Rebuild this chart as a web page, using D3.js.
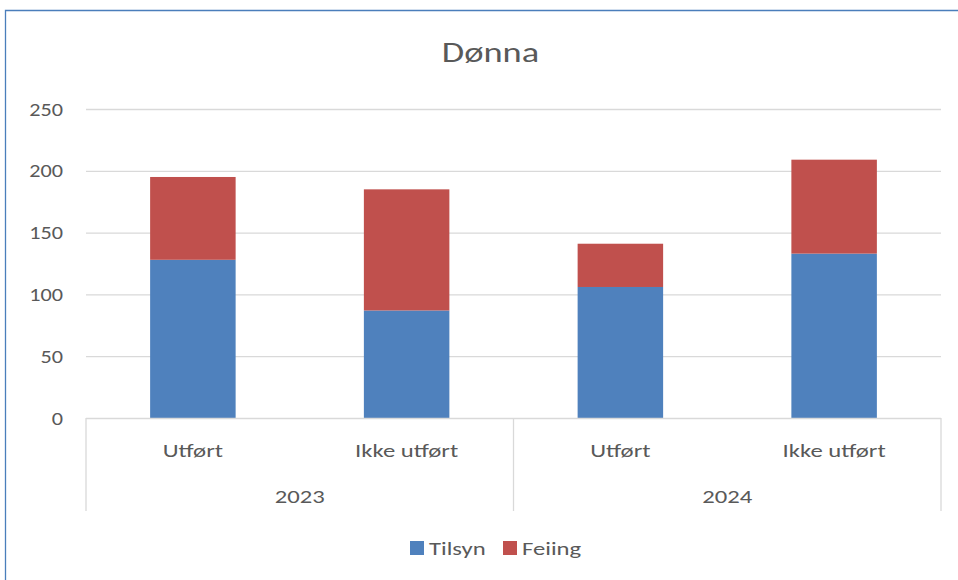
<!DOCTYPE html>
<html><head><meta charset="utf-8">
<script src="https://cdn.jsdelivr.net/npm/d3@7"></script>
<style>body{margin:0;background:#fff}svg{display:block;font-family:Calibri,Carlito,"Open Sans",sans-serif}</style>
</head><body><svg id="c" width="958" height="580"></svg>
<script>
const title = "Dønna";
const years = ["2023", "2024"];
const categories = ["2023|Utført", "2023|Ikke utført", "2024|Utført", "2024|Ikke utført"];
const seriesNames = ["Tilsyn", "Feiing"];
const tilsyn = [128, 87, 106, 133];
const feiing = [67, 98, 35, 76];
const yTicks = [0, 50, 100, 150, 200, 250];
const colors = ["#4f81bd", "#c0504d"];

const SX = 1.3;
const svg = d3.select("#c");
function txt(g, x, y, s, size, anchor, sx) {
  return g.append("text")
    .attr("transform", `translate(${x},${y}) scale(${sx || SX},1)`)
    .attr("text-anchor", anchor || "middle")
    .attr("font-size", size).attr("fill", "#595959").text(s);
}

// outer border (top and left visible)
svg.append("path").attr("d","M5.5,580 L5.5,10.5 L958,10.5").attr("fill","none").attr("stroke","#4a7ebb").attr("stroke-width",1.3);

const L = 86, R = 941, T = 109, B = 418;
const x = d3.scaleBand().domain(categories).range([L, R]).paddingInner(0.6).paddingOuter(0.3);
const y = d3.scaleLinear().domain([0, 250]).range([B, T]);

txt(svg, 490.5, 62, title, 28, "middle");

// gridlines
svg.append("g").selectAll("line").data(yTicks.filter(d=>d>0)).join("line")
  .attr("x1", L).attr("x2", R).attr("y1", d=>y(d)+0.5).attr("y2", d=>y(d)+0.5)
  .attr("stroke","#d9d9d9").attr("stroke-width",1.3);

// y axis labels
const yg = svg.append("g");
yTicks.forEach(v => txt(yg, 63, y(v) + 6.5, d3.format("d")(v), 19, "end", 1.17));

// stacked bars
const stackData = categories.map((c,i)=>({cat:c, Tilsyn:tilsyn[i], Feiing:feiing[i]}));
const stack = d3.stack().keys(seriesNames)(stackData);
svg.append("g").selectAll("g").data(stack).join("g").attr("fill",(d,i)=>colors[i])
  .selectAll("rect").data(d=>d).join("rect")
  .attr("x", d=>x(d.data.cat)).attr("width", x.bandwidth())
  .attr("y", d=>y(d[1])).attr("height", d=>y(d[0])-y(d[1]));

// x axis line & group dividers
const axisG = svg.append("g").attr("stroke","#d9d9d9").attr("stroke-width",1.3);
axisG.append("line").attr("x1",L).attr("x2",R).attr("y1",B+0.5).attr("y2",B+0.5);
const step = (R-L)/categories.length;
[0, 2, 4].forEach(k=>{
  axisG.append("line").attr("x1",L+k*step).attr("x2",L+k*step).attr("y1",B).attr("y2",511);
});

// category labels
const cg = svg.append("g");
categories.forEach(c => txt(cg, x(c)+x.bandwidth()/2, 457, c.split("|")[1], 19, "middle"));
years.forEach((yr,i) => txt(cg, L+(i*2+1)*step, 503, yr, 19, "middle"));

// legend
const leg = svg.append("g");
const legX = [410, 503];
seriesNames.forEach((s,i)=>{
  leg.append("rect").attr("x",legX[i]).attr("y",541).attr("width",14).attr("height",14).attr("fill",colors[i]);
  txt(leg, legX[i]+19, 555, s, 19, "start");
});
</script></body></html>
